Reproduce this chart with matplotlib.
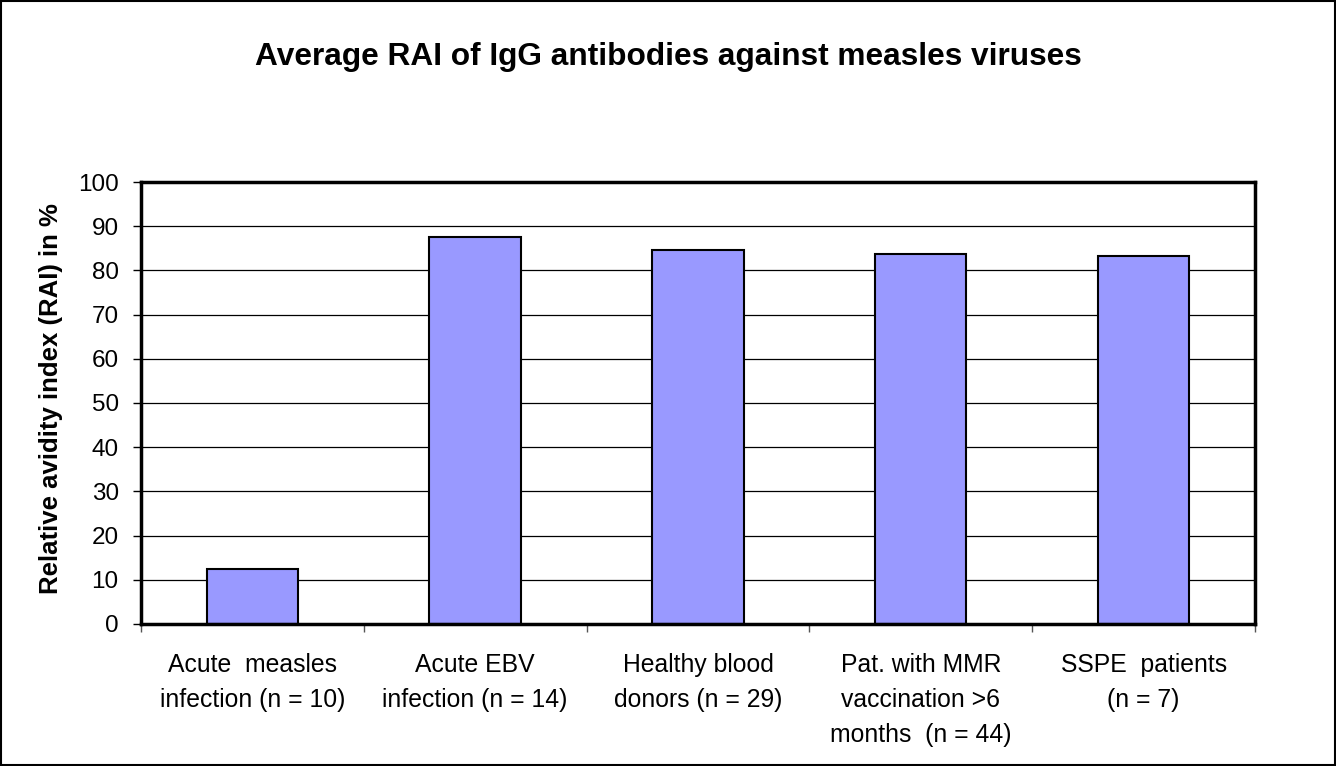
import numpy as np
import matplotlib.pyplot as plt
from matplotlib.patches import Rectangle

plt.rcParams['font.family'] = ['Liberation Sans', 'DejaVu Sans']

# data
groups = ['Acute  measles\ninfection (n = 10)',
          'Acute EBV\ninfection (n = 14)',
          'Healthy blood\ndonors (n = 29)',
          'Pat. with MMR\nvaccination >6\nmonths  (n = 44)',
          'SSPE  patients\n(n = 7)']
rai = [12.5, 87.5, 84.7, 83.7, 83.3]

fig = plt.figure(figsize=(13.36, 7.66), dpi=100)
ax = fig.add_axes([0.1055, 0.1854, 0.8339, 0.577])

x = np.arange(len(groups))
ax.bar(x, rai, width=0.41, color='#9999FF', edgecolor='black', linewidth=1.5, zorder=3)

ax.set_xlim(-0.5, len(groups) - 0.5)
ax.set_ylim(0, 100)
ax.set_yticks(np.arange(0, 101, 10))
ax.yaxis.grid(True, color='black', linewidth=0.9, zorder=0)

ax.set_xticks(x)
ax.set_xticklabels(groups, fontsize=17.8, linespacing=1.58)
ax.set_xticks(np.arange(-0.5, len(groups), 1), minor=True)
ax.tick_params(axis='x', which='major', length=0, pad=21)
ax.tick_params(axis='x', which='minor', length=6, width=1, color='#555555')
ax.tick_params(axis='y', length=6, width=1, pad=10, labelsize=17.5)

for side in ['left', 'right', 'top', 'bottom']:
    ax.spines[side].set_linewidth(2.5)
    ax.spines[side].set_zorder(4)

ax.set_ylabel('Relative avidity index (RAI) in %', fontsize=18.5, fontweight='bold')
ax.yaxis.set_label_coords(-0.07, 0.51)
fig.text(0.5, 0.925, 'Average RAI of IgG antibodies against measles viruses',
         ha='center', va='center', fontsize=22.8, fontweight='bold')

# outer frame around the chart
fig.patches.append(Rectangle((0.001, 0.001), 0.998, 0.998, transform=fig.transFigure,
                             fill=False, edgecolor='black', linewidth=1.5))

fig.savefig('out.png', dpi=100)
